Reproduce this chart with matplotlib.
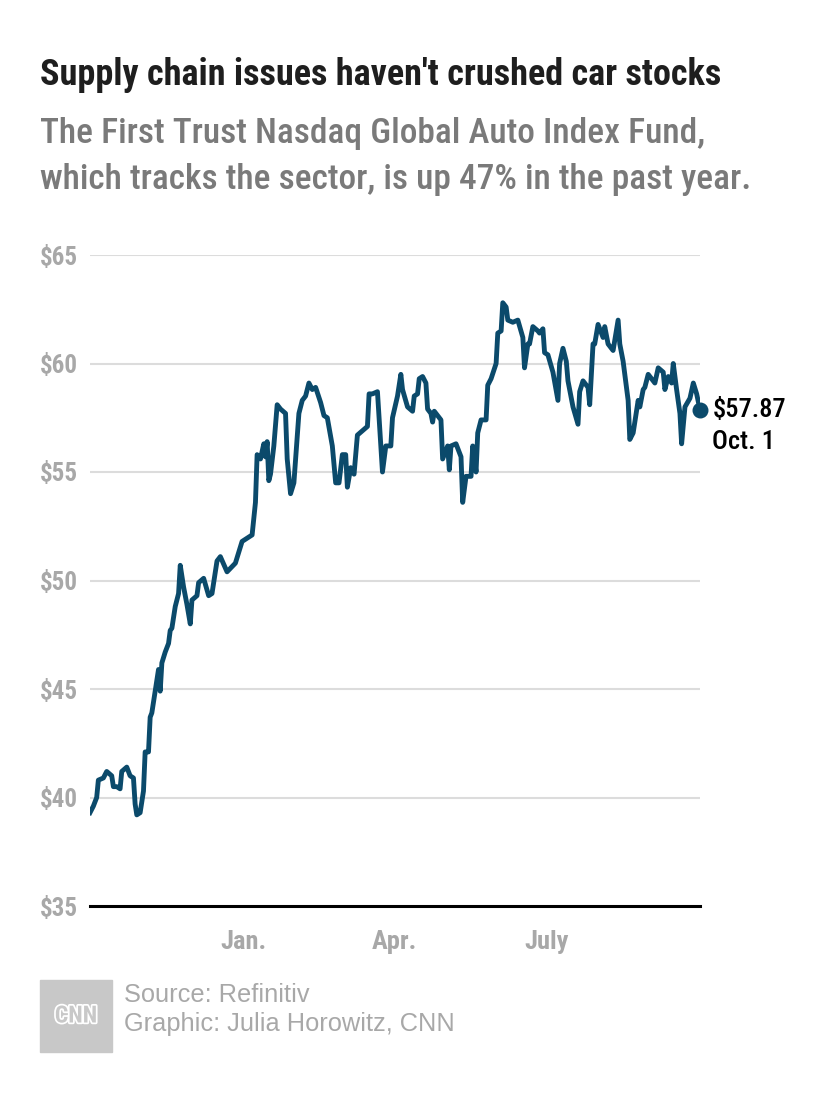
import matplotlib
matplotlib.use("Agg")
import matplotlib.pyplot as plt
import matplotlib.patheffects as pe
from matplotlib.patches import Rectangle
import pandas as pd

# データ (2020-10-01 からの日数, 終値 $)
day_offsets = [
    0, 2, 4, 5, 8, 10, 13, 14, 16, 18, 19, 22, 24, 26, 27, 28, 30, 32, 33, 35,
    36, 37, 39, 41, 42, 43, 45, 47, 48, 49, 51, 53, 54, 56, 58, 60, 61, 64, 65, 68,
    71, 73, 76, 78, 82, 87, 91, 95, 97, 99, 100, 102, 104, 105, 106, 107, 108, 110, 112, 114,
    117, 118, 120, 122, 125, 127, 129, 131, 133, 135, 138, 140, 142, 145, 147, 149, 151, 153, 154, 156,
    158, 160, 163, 166, 167, 169, 172, 174, 175, 177, 180, 181, 184, 186, 187, 190, 193, 194, 196, 197,
    199, 201, 202, 204, 205, 206, 208, 210, 211, 214, 215, 216, 219, 222, 223, 225, 228, 229, 231, 232,
    234, 237, 238, 240, 243, 244, 246, 247, 249, 250, 253, 256, 259, 260, 262, 263, 265, 268, 269, 271,
    272, 274, 277, 280, 281, 283, 285, 286, 289, 292, 293, 295, 298, 299, 301, 302, 304, 307, 308, 310,
    313, 316, 317, 319, 322, 323, 325, 328, 329, 331, 332, 334, 337, 338, 340, 343, 344, 346, 348, 349,
    351, 353, 354, 356, 359, 361, 363, 365,
]
prices = [
    39.3, 39.6, 40.0, 40.8, 40.9, 41.2, 41.0, 40.5, 40.5, 40.4, 41.2, 41.4, 41.0, 40.9, 39.7, 39.2, 39.3, 40.3, 42.1, 42.1,
    43.7, 43.9, 44.9, 45.9, 44.9, 46.2, 46.7, 47.1, 47.7, 47.8, 48.8, 49.4, 50.7, 49.7, 48.9, 48.0, 49.1, 49.3, 49.9, 50.1,
    49.3, 49.4, 50.9, 51.1, 50.4, 50.8, 51.8, 52.0, 52.1, 53.6, 55.8, 55.6, 56.3, 55.7, 56.4, 54.6, 54.9, 56.2, 58.1, 57.9,
    57.7, 55.6, 54.0, 54.5, 57.7, 58.3, 58.5, 59.1, 58.8, 58.9, 58.2, 57.6, 57.5, 56.2, 54.5, 54.5, 55.8, 55.8, 54.3, 55.2,
    54.9, 56.7, 56.9, 57.1, 58.6, 58.6, 58.7, 56.2, 55.0, 56.2, 56.2, 57.5, 58.5, 59.5, 58.8, 58.0, 57.8, 58.5, 58.6, 59.3,
    59.4, 59.1, 57.9, 57.7, 57.3, 57.8, 57.6, 57.4, 55.6, 56.2, 55.1, 56.2, 56.3, 55.7, 53.6, 54.8, 54.8, 56.2, 55.0, 56.8,
    57.4, 57.4, 59.0, 59.3, 60.0, 61.4, 61.5, 62.8, 62.6, 62.0, 61.9, 62.0, 61.2, 59.8, 60.9, 60.9, 61.7, 61.5, 61.4, 61.6,
    60.5, 60.4, 59.6, 58.3, 60.0, 60.7, 60.1, 59.2, 58.0, 57.2, 58.7, 59.2, 58.9, 58.1, 60.9, 60.9, 61.8, 61.2, 61.7, 60.9,
    60.6, 62.0, 60.9, 60.1, 58.3, 56.5, 56.8, 58.3, 58.0, 58.8, 58.9, 59.5, 59.2, 59.1, 59.8, 59.6, 58.8, 59.4, 59.1, 60.0,
    58.8, 57.7, 56.3, 58.0, 58.4, 59.1, 58.6, 57.87,
]
y_ticks = [35, 40, 45, 50, 55, 60, 65]
x_tick_dates = ["2021-01-01", "2021-04-01", "2021-07-01"]
x_tick_labels = ["Jan.", "Apr.", "July"]

start = pd.Timestamp("2020-10-01")
dates = start + pd.to_timedelta(day_offsets, unit="D")

NARROW = ["Roboto Condensed", "Roboto", "DejaVu Sans"]
PLAIN = ["Liberation Sans", "DejaVu Sans"]
LINE_COLOR = "#0b4a6b"
TICK_GRAY = "#a8a8a8"

fig = plt.figure(figsize=(8.3, 11.02), dpi=100)
fig.patch.set_facecolor("white")

W, H = 830, 1102
ax = fig.add_axes([90 / W, (H - 906) / H, 610 / W, 651 / H])

ax.plot(dates, prices, color=LINE_COLOR, lw=3.5, solid_joinstyle="round", zorder=3)
ax.scatter([dates[-1]], [prices[-1]], s=110, color=LINE_COLOR, zorder=4, clip_on=False)

ax.set_xlim(start, pd.Timestamp("2021-10-01"))
ax.set_ylim(35, 65)

# グリッド線
for v in y_ticks[1:]:
    ax.axhline(v, color="#dcdcdc", lw=1.5, zorder=1)
ax.axhline(35, color="black", lw=2.2, zorder=2, clip_on=False)

for s in ax.spines.values():
    s.set_visible(False)
ax.tick_params(length=0)
ax.set_yticks(y_ticks)
ax.set_yticklabels([f"${v}" for v in y_ticks], family=NARROW, fontsize=18,
                   fontweight="bold", color=TICK_GRAY)
ax.tick_params(axis="y", pad=9)
ax.set_xticks(pd.to_datetime(x_tick_dates))
ax.set_xticklabels(x_tick_labels, family=NARROW, fontsize=19,
                   fontweight="bold", color=TICK_GRAY)
ax.tick_params(axis="x", pad=17)

# 終値ラベル
ax.annotate(f"${prices[-1]:.2f}", xy=(dates[-1], prices[-1]),
            xytext=(9, 0), textcoords="offset points", va="center",
            ha="left", family=NARROW, fontsize=19, fontweight="medium",
            color="black", annotation_clip=False)
ax.annotate("Oct. 1", xy=(dates[-1], prices[-1]),
            xytext=(9, -23), textcoords="offset points", va="center",
            ha="left", family=NARROW, fontsize=19, fontweight="medium",
            color="black", annotation_clip=False)

# タイトル
fig.text(40 / W, 1 - 75 / H, "Supply chain issues haven't crushed car stocks",
         family=NARROW, fontsize=26, fontweight="bold", color="#1e1e1e", va="center")
fig.text(40 / W, 1 - 133 / H, "The First Trust Nasdaq Global Auto Index Fund,",
         family=NARROW, fontsize=25.5, fontweight="medium", color="#7a7a7a", va="center")
fig.text(40 / W, 1 - 180 / H, "which tracks the sector, is up 47% in the past year.",
         family=NARROW, fontsize=25.5, fontweight="medium", color="#7a7a7a", va="center")

# フッター
fig.patches.append(Rectangle((40 / W, 1 - 1052 / H), 72 / W, 72 / H,
                             transform=fig.transFigure, color="#c8c8c8"))
fig.text(76 / W, 1 - 1016 / H, "CNN", fontsize=17, fontweight="bold",
         family=NARROW, color="#c8c8c8", ha="center", va="center",
         path_effects=[pe.Stroke(linewidth=2.5, foreground="white"), pe.Normal()])
fig.text(124 / W, 1 - 995 / H, "Source: Refinitiv", family=PLAIN,
         fontsize=18.3, color="#a8a8a8", va="center")
fig.text(124 / W, 1 - 1024 / H, "Graphic: Julia Horowitz, CNN", family=PLAIN,
         fontsize=18.3, color="#a8a8a8", va="center")

fig.savefig("out.png", dpi=100, facecolor="white")
